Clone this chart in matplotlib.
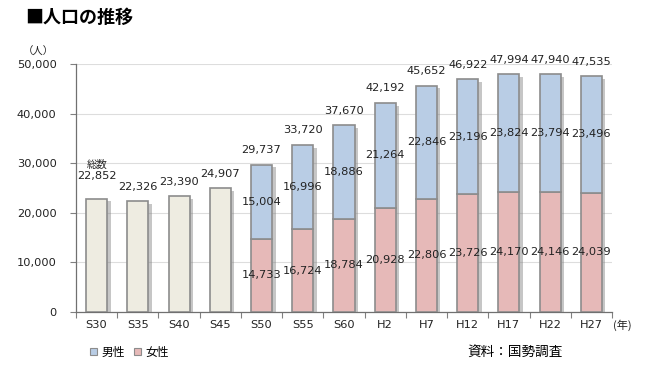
import matplotlib
matplotlib.use("Agg")
import matplotlib.pyplot as plt
import matplotlib.patheffects as pe
from matplotlib.patches import Patch
import numpy as np

plt.rcParams['font.family'] = ['DejaVu Sans', 'Noto Sans CJK JP']

categories = ['S30', 'S35', 'S40', 'S45', 'S50', 'S55', 'S60', 'H2', 'H7', 'H12', 'H17', 'H22', 'H27']
total = [22852, 22326, 23390, 24907, 29737, 33720, 37670, 42192, 45652, 46922, 47994, 47940, 47535]
male = [15004, 16996, 18886, 21264, 22846, 23196, 23824, 23794, 23496]
female = [14733, 16724, 18784, 20928, 22806, 23726, 24170, 24146, 24039]
n_total_only = 4
yticks = [0, 10000, 20000, 30000, 40000, 50000]

c_total = '#EEECE1'
c_male = '#B9CDE5'
c_female = '#E6B9B8'
c_edge = '#8C8C8C'
c_text = '#222222'
jp = ['Noto Sans CJK JP', 'DejaVu Sans']

fig = plt.figure(figsize=(6.47, 3.69), dpi=100)
ax = fig.add_axes([76/647, 1-312/369, (612-76)/647, (312-64)/369])

shadow = [pe.SimplePatchShadow(offset=(2.5, -2), shadow_rgbFace='#777777', alpha=0.42), pe.Normal()]
w = 0.51
x = np.arange(len(categories))

xt = x[:n_total_only]
bt = ax.bar(xt, total[:n_total_only], width=w, color=c_total, edgecolor=c_edge, linewidth=1.2, zorder=3)
for b in bt:
    b.set_path_effects(shadow)
xs = x[n_total_only:]
# shadow carrier for the whole stacked bar
bs = ax.bar(xs, total[n_total_only:], width=w, color='white', edgecolor='none', linewidth=0, zorder=2.9)
for b in bs:
    b.set_path_effects(shadow)
bf = ax.bar(xs, female, width=w, color=c_female, edgecolor=c_edge, linewidth=1.2, zorder=3)
bm = ax.bar(xs, male, bottom=female, width=w, color=c_male, edgecolor=c_edge, linewidth=1.2, zorder=3)

fs = 8.2
# totals above bars
for i, v in enumerate(total):
    off = 16.5 if i == 0 else 10.4
    ax.annotate(f'{v:,}', (x[i], v), xytext=(0, off), textcoords='offset points',
                ha='center', va='center', fontsize=fs, color=c_text, zorder=5)
ax.annotate('総数', (x[0], total[0]), xytext=(0, 24.5), textcoords='offset points',
            ha='center', va='center', fontsize=7.5, color=c_text, family=jp, zorder=5)
# segment labels
for j, xi in enumerate(xs):
    ax.text(xi, female[j] / 2, f'{female[j]:,}', ha='center', va='center', fontsize=fs, color=c_text, zorder=5)
    ax.text(xi, female[j] + male[j] / 2, f'{male[j]:,}', ha='center', va='center', fontsize=fs, color=c_text, zorder=5)

ax.set_xlim(-0.5, len(categories) - 0.5)
ax.set_ylim(0, 50000)
ax.set_yticks(yticks)
ax.set_yticklabels([f'{t:,}' for t in yticks], fontsize=8.2, color=c_text)
ax.tick_params(axis='y', length=4, width=0.8, color='#808080', pad=10)
ax.set_xticks(x)
ax.set_xticklabels(categories, fontsize=8.2, color=c_text)
ax.set_xticks(np.arange(-0.5, len(categories)), minor=True)
ax.tick_params(axis='x', which='major', length=0, pad=6)
ax.tick_params(axis='x', which='minor', length=4, width=0.8, color='#808080')
ax.grid(axis='y', color='#DDDDDD', linewidth=0.8, zorder=0)
ax.set_axisbelow(True)
for s in ['top', 'right']:
    ax.spines[s].set_visible(False)
for s in ['left', 'bottom']:
    ax.spines[s].set_color('#707070')
    ax.spines[s].set_linewidth(0.9)

fig.text(25/647, 1-17/369, '■人口の推移', fontsize=13, fontweight='bold', family=jp, va='center', ha='left', color='black')
fig.text(38.5/647, 1-52/369, '（人）', fontsize=7.5, family=jp, va='center', ha='center', color=c_text)
fig.text(613/647, 1-325/369, '(年)', fontsize=8, family=jp, va='center', ha='left', color=c_text)
fig.text(467/647, 1-352/369, '資料：国勢調査', fontsize=9.8, family=jp, va='center', ha='left', color='black')

handles = [Patch(facecolor=c_male, edgecolor=c_edge, linewidth=0.8, label='男性'),
           Patch(facecolor=c_female, edgecolor=c_edge, linewidth=0.8, label='女性')]
fig.legend(handles=handles, loc='center left', bbox_to_anchor=(90/647, 1-352/369), frameon=False,
           ncol=2, handlelength=0.6, handleheight=0.6, handletextpad=0.35, columnspacing=0.8,
           borderpad=0, borderaxespad=0, prop={'family': jp, 'size': 8.5})

fig.savefig('out.png', dpi=100)
